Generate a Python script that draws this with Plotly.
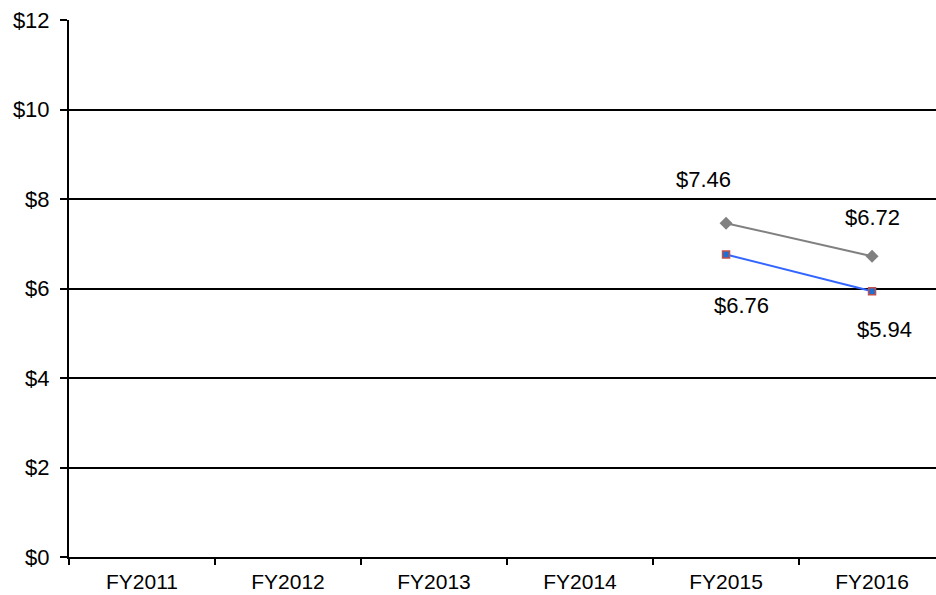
import plotly.graph_objects as go

categories = ["FY2011", "FY2012", "FY2013", "FY2014", "FY2015", "FY2016"]
series_gray = [None, None, None, None, 7.46, 6.72]
series_blue = [None, None, None, None, 6.76, 5.94]
y_ticks = [0, 2, 4, 6, 8, 10, 12]
y_tick_labels = ["$" + str(v) for v in y_ticks]

FONT = "Liberation Sans, Arial, sans-serif"

fig = go.Figure()
fig.add_trace(go.Scatter(
    x=categories, y=series_gray, mode="lines+markers",
    line=dict(color="#808080", width=2),
    marker=dict(symbol="diamond", size=10, color="#808080"),
    showlegend=False, hoverinfo="skip", cliponaxis=False))
fig.add_trace(go.Scatter(
    x=categories, y=series_blue, mode="lines+markers",
    line=dict(color="#3366FF", width=2),
    marker=dict(symbol="square", size=7, color="#1F6FD0",
                line=dict(color="#C0504D", width=1.5)),
    showlegend=False, hoverinfo="skip", cliponaxis=False))

# label offsets (pixels) relative to each point
gray_offsets = {4: (-23, 44), 5: (0, 39)}
blue_offsets = {4: (15, -51), 5: (12, -38)}
for i, (dx, dy) in gray_offsets.items():
    fig.add_annotation(x=categories[i], y=series_gray[i], text="$%.2f" % series_gray[i],
                       showarrow=False, xshift=dx, yshift=dy,
                       font=dict(family=FONT, size=22, color="black"))
for i, (dx, dy) in blue_offsets.items():
    fig.add_annotation(x=categories[i], y=series_blue[i], text="$%.2f" % series_blue[i],
                       showarrow=False, xshift=dx, yshift=dy,
                       font=dict(family=FONT, size=22, color="black"))

fig.update_layout(
    width=936, height=595,
    margin=dict(l=69, r=0, t=20, b=38),
    paper_bgcolor="white", plot_bgcolor="white",
    font=dict(family=FONT, size=22, color="black"),
    xaxis=dict(type="category", categoryorder="array", categoryarray=categories,
               range=[-0.5, 5.438], showgrid=False, showline=True, automargin=False,
               linecolor="black", linewidth=2, ticks="outside", tickson="boundaries",
               ticklen=6, tickwidth=2, tickcolor="black", zeroline=False,
               ticklabelstandoff=5,
               tickfont=dict(family=FONT, size=21)),
    yaxis=dict(range=[0, 12], tickvals=y_ticks, ticktext=y_tick_labels,
               showgrid=True, gridcolor="black", gridwidth=2, automargin=False,
               showline=True, linecolor="black", linewidth=2,
               ticks="outside", ticklen=7, tickwidth=2, tickcolor="black",
               ticklabelstandoff=6,
               zeroline=False, tickfont=dict(family=FONT, size=22)),
)

fig.write_html("out.html", config={"displayModeBar": False},
               post_script="document.body.style.margin='0';")
